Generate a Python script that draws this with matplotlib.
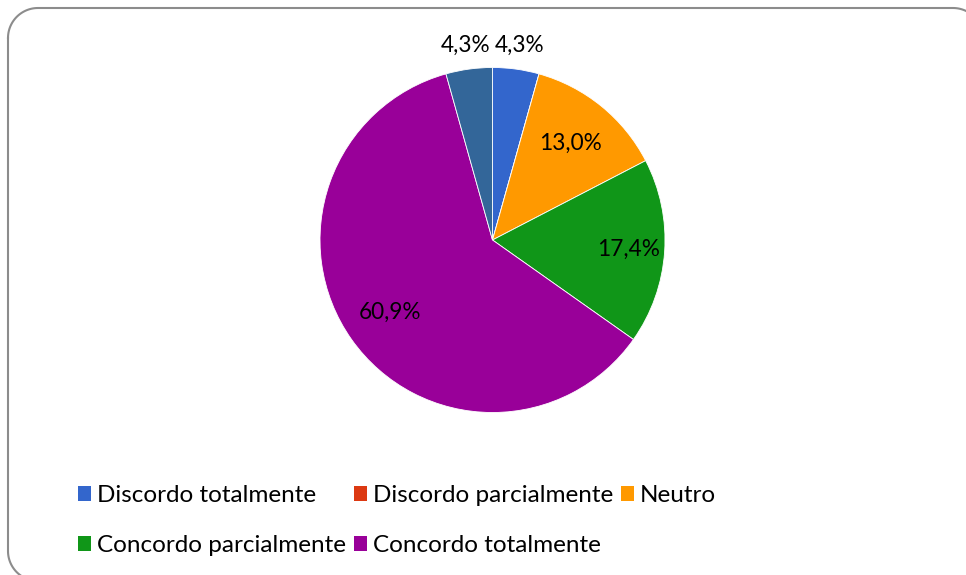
import matplotlib
matplotlib.use("Agg")
import matplotlib.pyplot as plt
from matplotlib.patches import Patch
import numpy as np

plt.rcParams['font.family'] = ['Lato', 'DejaVu Sans']

categories = ["Discordo totalmente", "Discordo parcialmente", "Neutro",
              "Concordo parcialmente", "Concordo totalmente", ""]
values = [1, 0, 3, 4, 14, 1]
colors = ["#3366CC", "#DC3912", "#FF9900", "#109618", "#990099", "#336699"]
label_dist = [1.14, 0.75, 0.72, 0.79, 0.73, 1.14]

W, H = 966, 575
fig = plt.figure(figsize=(W / 100, H / 100), dpi=100)
fig.patch.set_facecolor("white")

# background axes in pixel units for the rounded border
bg = fig.add_axes([0, 0, 1, 1])
bg.set_xlim(0, W)
bg.set_ylim(H, 0)
bg.axis("off")


def rounded_rect(x0, y0, x1, y1, rad, n=30):
    pts = []
    for (cx_, cy_, a0) in [(x0 + rad, y0 + rad, 180), (x1 - rad, y0 + rad, 270),
                           (x1 - rad, y1 - rad, 0), (x0 + rad, y1 - rad, 90)]:
        t = np.deg2rad(np.linspace(a0, a0 + 90, n))
        pts.append(np.column_stack([cx_ + rad * np.cos(t), cy_ + rad * np.sin(t)]))
    pts = np.vstack(pts + [pts[0][:1]])
    return pts[:, 0], pts[:, 1]


bx, by = rounded_rect(8, 8, 983, 581, 30)
bg.plot(bx, by, color="#8C8C8C", linewidth=1.5, clip_on=False)

# pie axes: center (492.5,240), radius 172.5
r = 172.5
cx, cy = 492.5, 240
ax = fig.add_axes([(cx - r) / W, 1 - (cy + r) / H, 2 * r / W, 2 * r / H])
wedges, _ = ax.pie(values, colors=colors, startangle=90, counterclock=False,
                   radius=1.0, wedgeprops=dict(linewidth=0.6, edgecolor="white"))
ax.set_xlim(-1, 1)
ax.set_ylim(-1, 1)
ax.set_aspect("equal")

total = sum(values)
for w, v, d in zip(wedges, values, label_dist):
    if v == 0:
        continue
    ang = np.deg2rad((w.theta1 + w.theta2) / 2)
    pct = f"{100 * v / total:.1f}%".replace(".", ",")
    ax.text(d * np.cos(ang), d * np.sin(ang), pct, ha="center", va="center",
            fontsize=16.3, color="black", clip_on=False)

# legend (row-wise order in 3 columns)
handles = [Patch(facecolor=c, edgecolor="none", label=l)
           for c, l in zip(colors[:5], categories[:5])]
order = [0, 3, 1, 4, 2]
fig.legend([handles[i] for i in order], [categories[i] for i in order],
           ncol=3, loc="upper left", bbox_to_anchor=(78 / W, 1 - 485 / H),
           frameon=False, fontsize=17.5, handlelength=0.55, handleheight=0.55,
           handletextpad=0.25, columnspacing=0.3, labelspacing=1.21,
           borderaxespad=0, borderpad=0)

fig.savefig("out.png", dpi=100, facecolor="white")
